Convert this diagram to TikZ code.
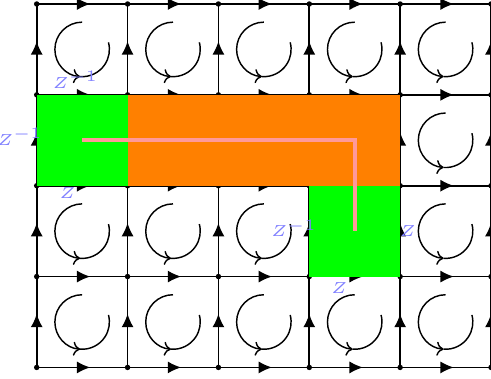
\documentclass[tikz,border=0pt]{standalone}
\usetikzlibrary{arrows.meta,decorations.markings}
\definecolor{zgreen}{RGB}{0,255,0}
\definecolor{zorange}{RGB}{255,128,0}
\definecolor{zpink}{RGB}{255,153,153}
\definecolor{zblue}{RGB}{128,128,255}
\begin{document}
\begin{tikzpicture}[
  edge/.style={line width=0.5pt, draw=black},
  hedge/.style={edge, postaction={decorate}, decoration={markings, mark=at position 0.59 with {\arrow{Latex[length=4.2pt,width=3.8pt]}}}},
  loopc/.style={line width=0.45pt},
  looptip/.style={loopc, -{To[length=2.2pt,width=4.4pt]}},
  zfillgreen/.style={fill=zgreen},
  zfillorange/.style={fill=zorange},
  zpath/.style={draw=zpink, line width=1.25pt},
  zlab/.style={text=zblue, font=\tiny, inner sep=0pt, anchor=base},
]
\useasboundingbox (-0.404,-0.121) rectangle (5.0,4.044);
\foreach \i in {0,...,5} \foreach \j in {0,...,4} \coordinate (v-\i-\j) at (\i,\j);
% horizontal edges
\foreach \i in {0,...,4} {
  \foreach \j in {0,...,4} {
    \pgfmathtruncatemacro{\ii}{\i+1}
    \draw[hedge] (v-\i-\j) -- (v-\ii-\j);
  }
}
% vertical edges
\foreach \i in {0,...,5} {
  \foreach \j in {0,...,3} {
    \pgfmathtruncatemacro{\jj}{\j+1}
    \draw[hedge] (v-\i-\j) -- (v-\i-\jj);
  }
}
% vertices
\foreach \i in {0,...,5} \foreach \j in {0,...,4}
  \fill (v-\i-\j) circle (0.03);
% plaquette loops
\foreach \i in {0,...,4} \foreach \j in {0,...,3} {
  \draw[looptip] (\i+0.5,\j+0.8) arc[start angle=90, end angle=266, radius=0.3];
  \draw[loopc] (\i+0.5,\j+0.5) ++(266:0.3) arc[start angle=266, end angle=375, radius=0.3];
}
% coloured region
\fill[zfillgreen] (v-0-2) rectangle (v-1-3);
\fill[zfillorange] (v-1-2) rectangle (v-4-3);
\fill[zfillgreen] (v-3-1) rectangle (v-4-2);
\coordinate (p0) at (0.5,2.5);
\coordinate (p1) at (3.5,2.5);
\coordinate (p2) at (3.5,1.5);
\draw[zpath] (p0) -- (p1) -- (p2);
% labels
\node[zlab] (l1) at (0.427,3.075) {$Z^{-1}$};
\node[zlab] (l2) at (-0.184,2.447) {$Z^{-1}$};
\node[zlab] (l3) at (0.339,1.863) {$Z$};
\node[zlab] (l4) at (2.832,1.437) {$Z^{-1}$};
\node[zlab] (l5) at (4.084,1.437) {$Z$};
\node[zlab] (l6) at (3.329,0.814) {$Z$};
\end{tikzpicture}
\end{document}
